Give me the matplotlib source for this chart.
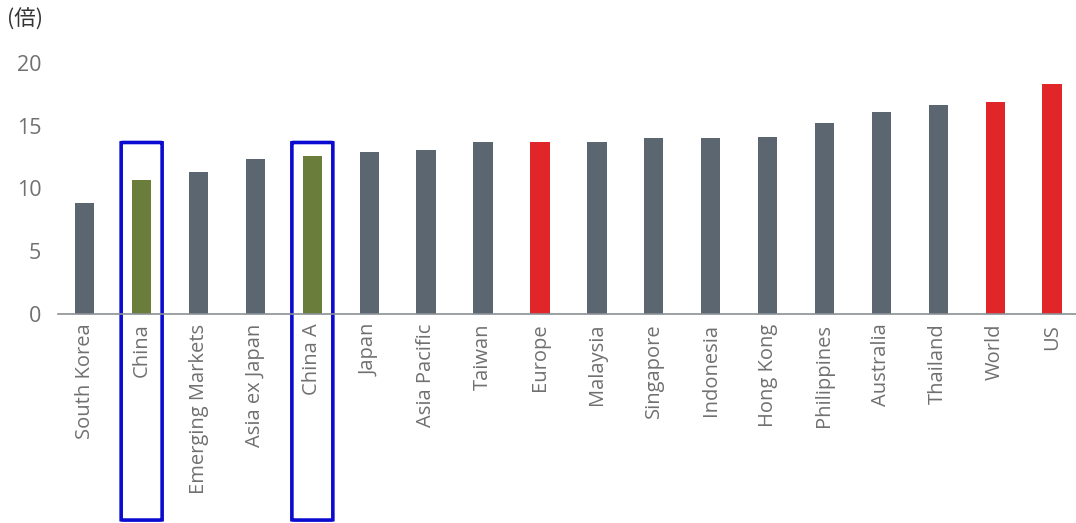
import matplotlib.pyplot as plt
from matplotlib.patches import FancyBboxPatch

markets = ["South Korea", "China", "Emerging Markets", "Asia ex Japan", "China A",
           "Japan", "Asia Pacific", "Taiwan", "Europe", "Malaysia", "Singapore",
           "Indonesia", "Hong Kong", "Philippines", "Australia", "Thailand", "World", "US"]
pe_ratio = [8.8, 10.7, 11.3, 12.3, 12.6, 12.9, 13.05, 13.7, 13.7, 13.7, 14.0,
            14.0, 14.08, 15.2, 16.05, 16.6, 16.9, 18.3]
highlight = ["China", "China A"]
benchmarks = ["Europe", "World", "US"]
yticks = [0, 5, 10, 15, 20]

grey = "#5b6670"
green = "#6a7d3a"
red = "#e1262a"
text_grey = "#707070"

colors = []
for m in markets:
    if m in highlight:
        colors.append(green)
    elif m in benchmarks:
        colors.append(red)
    else:
        colors.append(grey)

plt.rcParams['font.family'] = ['Open Sans', 'Noto Sans CJK JP', 'DejaVu Sans']

fig = plt.figure(figsize=(10.76, 5.23), dpi=100)
ax = fig.add_axes([58/1076, 209/523, 1018/1076, 251.3/523])

x = range(len(markets))
ax.bar(x, pe_ratio, width=0.34, color=colors)

ax.set_xlim(-0.47, len(markets) - 1 + 0.42)
ax.set_ylim(0, 20)
ax.set_yticks(yticks)
ax.set_yticklabels([str(t) for t in yticks], fontsize=15.5, color=text_grey)
ax.set_xticks(list(x))
ax.set_xticklabels(markets, rotation=90, fontsize=14.5, color=text_grey, va="top")
ax.tick_params(length=0)
ax.tick_params(axis="y", pad=12)
ax.tick_params(axis="x", pad=7)

for s in ["top", "right", "left"]:
    ax.spines[s].set_visible(False)
ax.spines["bottom"].set_color("#8a9096")
ax.spines["bottom"].set_linewidth(1.2)

fig.text(7/1076, 1 - 20/523, "(倍)", fontsize=15.5, color="#333333",
         family=['Noto Sans CJK JP', 'DejaVu Sans'], va="center", ha="left")

# blue boxes around the China bars
for m in highlight:
    i = markets.index(m)
    box = FancyBboxPatch((i - 0.36, -16.4), 0.72, 16.4 + 13.65,
                         boxstyle="round,pad=0,rounding_size=0.05",
                         fill=False, edgecolor="#0a0ad0", linewidth=2.6,
                         clip_on=False, mutation_aspect=1 / 3)
    ax.add_patch(box)

fig.savefig("out.png", dpi=100)
